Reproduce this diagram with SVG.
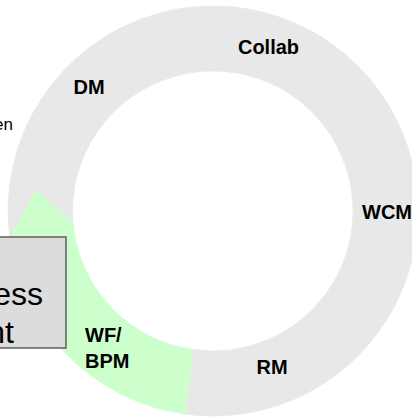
<svg xmlns="http://www.w3.org/2000/svg" width="412" height="419" viewBox="0 0 412 419">
  <style>
    .seg { fill: #e8e8e8; stroke: #e8e8e8; stroke-width: 0.8; }
    .seg.active { fill: #ccffcc; stroke: #ccffcc; }
    .lbl { font-family: "Liberation Sans", Arial, sans-serif; font-weight: bold; font-size: 20px; fill: #000; }
    .plain { font-family: "Liberation Sans", Arial, sans-serif; fill: #000; }
    .box { fill: #dcdcdc; stroke: #5e5e5e; stroke-width: 1.5; }
  </style>
  <rect width="412" height="419" fill="#ffffff"/>

  <!-- ring segments: centre (213,211), outer r 205, inner r 140 -->
  <g id="dm">
    <path class="seg" d="M 10,239 A 205 205 0 0 1 156.5,13.9 L 174.4,76.4 A 140 140 0 0 0 73,223 L 36,190 Z"/>
    <text class="lbl" x="89" y="94" text-anchor="middle">DM</text>
  </g>
  <g id="collab">
    <path class="seg" d="M 156.5,13.9 A 205 205 0 0 1 378.8,90.5 L 326.3,128.7 A 140 140 0 0 0 174.4,76.4 Z"/>
    <text class="lbl" x="268.5" y="54" text-anchor="middle">Collab</text>
  </g>
  <g id="wcm">
    <path class="seg" d="M 378.8,90.5 A 205 205 0 0 1 378.8,331.5 L 326.3,293.3 A 140 140 0 0 0 326.3,128.7 Z"/>
    <text class="lbl" x="362" y="219">WCM</text>
  </g>
  <g id="rm">
    <path class="seg" d="M 378.8,331.5 A 205 205 0 0 1 184.5,414 L 193.5,349.6 A 140 140 0 0 0 326.3,293.3 Z"/>
    <text class="lbl" x="272" y="374" text-anchor="middle">RM</text>
  </g>
  <g id="wf-bpm">
    <path class="seg active" d="M 184.5,414 A 205 205 0 0 1 10,239 L 36,190 L 73,223 A 140 140 0 0 0 193.5,349.6 Z"/>
    <text class="lbl" x="85" y="342">WF/</text>
    <text class="lbl" x="85" y="368">BPM</text>
  </g>

  <!-- partly visible caption at the left edge -->
  <g id="caption">
    <text class="plain" x="13" y="130" font-size="17" text-anchor="end">en</text>
  </g>

  <!-- callout box running off the left edge -->
  <g id="callout">
    <rect class="box" x="-10" y="237" width="76" height="111"/>
    <text class="plain" x="43" y="305" font-size="32" text-anchor="end">ess</text>
    <text class="plain" x="14" y="343" font-size="32" text-anchor="end">nt</text>
  </g>

  <g id="connectors"></g>
</svg>
